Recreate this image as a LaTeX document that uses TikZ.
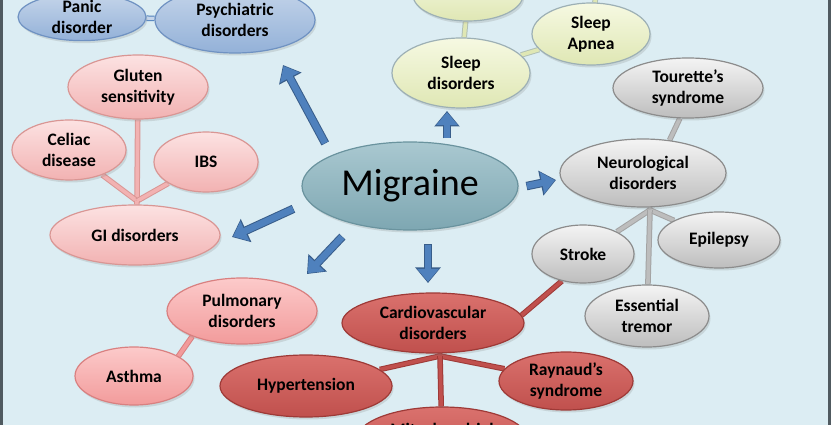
\documentclass[tikz,border=0pt]{standalone}
\usepackage{fontspec}
\setmainfont{Carlito}
\usetikzlibrary{shapes.geometric,shadows,arrows.meta,calc}
\definecolor{bg}{HTML}{DCEDF3}
\definecolor{frame}{HTML}{505A60}
\definecolor{blueT}{HTML}{C5D5EA}\definecolor{blueB}{HTML}{93B1D8}\definecolor{blueD}{HTML}{6F92C2}
\definecolor{pinkT}{HTML}{FCE2E2}\definecolor{pinkB}{HTML}{F2B2B2}\definecolor{pinkD}{HTML}{D99694}
\definecolor{pnkT}{HTML}{FCCACA}\definecolor{pnkB}{HTML}{F29B9B}\definecolor{pnkD}{HTML}{D98080}
\definecolor{redT}{HTML}{DA716D}\definecolor{redB}{HTML}{C0504D}\definecolor{redD}{HTML}{9E3A37}
\definecolor{grayT}{HTML}{F4F4F4}\definecolor{grayB}{HTML}{BDBDBD}\definecolor{grayD}{HTML}{8C8C8C}
\definecolor{yelT}{HTML}{F6F9E2}\definecolor{yelB}{HTML}{DFE7B4}\definecolor{yelD}{HTML}{9DB0B5}
\definecolor{migT}{HTML}{A9C8D0}\definecolor{migB}{HTML}{7EA7B2}\definecolor{migD}{HTML}{6A939E}
\definecolor{arrB}{HTML}{4F81BD}\definecolor{arrD}{HTML}{385D8A}
\pgfdeclarelayer{back}\pgfdeclarelayer{links}
\pgfsetlayers{back,links,main}
\tikzset{
  ell/.style={ellipse, inner sep=0pt, align=center, line width=1.2pt, text=black,
    font=\bfseries\fontsize{17.5}{21}\selectfont,
    drop shadow={opacity=0.22, shadow xshift=1.5pt, shadow yshift=-2.5pt}},
  blueE/.style={ell, draw=blueD, top color=blueT, bottom color=blueB},
  pinkE/.style={ell, draw=pinkD, top color=pinkT, bottom color=pinkB},
  pnkE/.style={ell, draw=pnkD, top color=pnkT, bottom color=pnkB},
  redE/.style={ell, draw=redD, top color=redT, bottom color=redB},
  grayE/.style={ell, draw=grayD, top color=grayT, bottom color=grayB},
  yelE/.style={ell, draw=yelD, top color=yelT, bottom color=yelB},
  migE/.style={ell, draw=migD, top color=migT, bottom color=migB, font=\fontsize{38}{40}\selectfont},
  sz/.style 2 args={minimum width=#1pt, minimum height=#2pt},
  lnk/.style={line width=1pt, double distance=3.6pt},
  bluelink/.style={lnk, draw=arrB, double=blueT},
  pinklink/.style={lnk, draw=pinkD, double=pinkB},
  pnklink/.style={lnk, draw=pnkD, double=pnkB},
  yellink/.style={lnk, draw=yelD!70!yelB, double=yelB},
  graylink/.style={lnk, draw=grayD!80!white, double=grayB},
  redlink/.style={lnk, draw=redD, double=redB},
  bigarrow/.style={line width=6.5pt, draw=arrB, shorten >=1.2pt,
    -{Triangle[length=13pt,width=21pt]},
    preaction={draw=arrD, line width=8.5pt, shorten >=0pt, shorten <=-0.5pt,
      -{Triangle[length=15.5pt,width=24.5pt]}}},
}
\begin{document}
\begin{tikzpicture}[x=1pt,y=-1pt]
\useasboundingbox (0,0) rectangle (831,425);
\begin{pgfonlayer}{back}
\fill[bg] (0,0) rectangle (831,425);
\end{pgfonlayer}
\clip (0,0) rectangle (831,425);
% nodes
\node[blueE, sz={128}{46}] (pan) at (82,17) {Panic\\disorder};
\node[blueE, sz={160}{66}] (psy) at (235,20) {Psychiatric\\disorders};
\node[pinkE, sz={140}{64}] (glu) at (138,87) {Gluten\\sensitivity};
\node[pinkE, sz={114}{60}] (cel) at (69,150) {Celiac\\disease};
\node[pinkE, sz={104}{60}] (ibs) at (206,162) {IBS};
\node[pinkE, sz={170}{60}] (gi) at (135,235) {GI disorders};
\node[migE, sz={216}{88}] (mig) at (410,186) {Migraine};
\node[yelE, sz={110}{52}] (ytop) at (468,-5) {};
\node[yelE, sz={138}{70}] (slp) at (461,73) {Sleep\\disorders};
\node[yelE, sz={118}{62}] (apn) at (591,34) {Sleep\\Apnea};
\node[grayE, sz={150}{60}] (tou) at (688,88) {Tourette’s\\syndrome};
\node[grayE, sz={166}{68}] (neu) at (643,173) {Neurological\\disorders};
\node[grayE, sz={102}{58}] (str) at (583,254) {Stroke};
\node[grayE, sz={122}{56}] (epi) at (719,240) {Epilepsy};
\node[grayE, sz={124}{62}] (ess) at (647,316) {Essential\\tremor};
\node[redE, sz={182}{60}] (car) at (433,323) {Cardiovascular\\disorders};
\node[redE, sz={172}{62}] (hyp) at (306,386) {Hypertension};
\node[redE, sz={134}{58}] (ray) at (566,381) {Raynaud’s\\syndrome};
\node[redE, sz={172}{66}] (mit) at (442,440) {Mitochondrial\\\phantom{disorders}};
\node[pnkE, sz={150}{66}] (pul) at (242,311) {Pulmonary\\disorders};
\node[pnkE, sz={118}{58}] (ast) at (134,376) {Asthma};
% fork points
\coordinate (gfork) at (137,201);
\coordinate (nfork) at (650,210);
\coordinate (cfork) at (440,356);
\coordinate (atop) at (596,-6);
% links
\begin{pgfonlayer}{links}
\clip (0,0) rectangle (831,425);
\draw[bluelink] (pan) -- (psy);
\draw[pinklink] (glu) -- (gfork);
\draw[pinklink] (cel) -- (gfork);
\draw[pinklink] (ibs) -- (gfork);
\draw[pinklink] (gfork) -- (gi);
\draw[pnklink] (pul.-153) -- (ast.24);
\draw[yellink] (ytop) -- (slp);
\draw[yellink] (slp) -- (apn);
\draw[yellink] (apn) -- (atop);
\draw[graylink] (tou.-105) -- (neu.51);
\draw[graylink] (neu) -- (nfork);
\draw[graylink] (nfork) -- (str);
\draw[graylink] (nfork) -- (epi);
\draw[graylink] (nfork) -- (ess);
\draw[redlink] (car.5) -- (str.-128);
\draw[redlink] (car) -- (cfork);
\draw[redlink] (cfork) -- (hyp);
\draw[redlink] (cfork) -- (ray);
\draw[redlink] (cfork) -- (mit);
\end{pgfonlayer}
% arrows
\coordinate (p1) at (325,143); \coordinate (q1) at (283,65);
\coordinate (p2) at (447,138); \coordinate (q2) at (447,111);
\coordinate (p3) at (527,186); \coordinate (q3) at (556,180);
\coordinate (p4) at (293,209); \coordinate (q4) at (232,237);
\coordinate (p5) at (342,237); \coordinate (q5) at (307,274);
\coordinate (p6) at (428,245); \coordinate (q6) at (428,283);
\draw[bigarrow] (p1) -- (q1);
\draw[bigarrow] (p2) -- (q2);
\draw[bigarrow] (p3) -- (q3);
\draw[bigarrow] (p4) -- (q4);
\draw[bigarrow] (p5) -- (q5);
\draw[bigarrow] (p6) -- (q6);
% frame
\fill[frame] (0,0) rectangle (3,425);
\fill[frame] (828,0) rectangle (831,425);
\end{tikzpicture}
\end{document}
